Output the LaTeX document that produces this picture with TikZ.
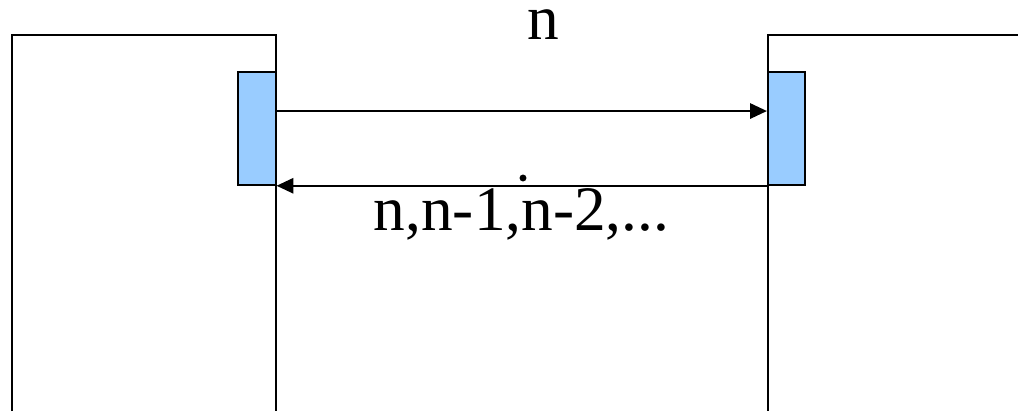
\documentclass[tikz,border=0pt]{standalone}
\usepackage{fontspec}
\setmainfont{Liberation Serif}
\usetikzlibrary{arrows.meta,positioning}

\begin{document}
\begin{tikzpicture}[
  x=0.75pt, y=-0.75pt,
  wall/.style={draw, line width=1.4pt},
  block/.style={draw, fill=blockblue, line width=1.4pt, minimum width=28pt, minimum height=84.5pt, inner sep=0pt},
  msg/.style={draw, line width=1.1pt, -{Triangle[length=12.5pt, width=11.5pt]}},
  lbl/.style={font=\fontsize{47.5}{50}\selectfont, inner sep=0pt, anchor=base}
]
  \definecolor{blockblue}{HTML}{99CCFF}
  \useasboundingbox (0,0) rectangle (1018,411);

  % the two walls
  \draw[wall] (12,411) -- (12,35) -- (276,35) -- (276,411);
  \draw[wall] (1018,35) -- (768,35) -- (768,411);

  \node[block] (lblk) at (257,128.5) {};
  \node[block] (rblk) at (786.5,128.5) {};

  \path[msg] ([yshift=13.1pt]lblk.east) -- ([yshift=13.1pt]rblk.west);
  \path[msg] (rblk.south west) -- (lblk.south east);

  \node[lbl] (top) at (543,39) {n};
  \node[lbl] (bot) at (521.5,230) {n,n-1,n-2,...};
  \fill (523,178) circle (2.6pt);
\end{tikzpicture}
\end{document}
